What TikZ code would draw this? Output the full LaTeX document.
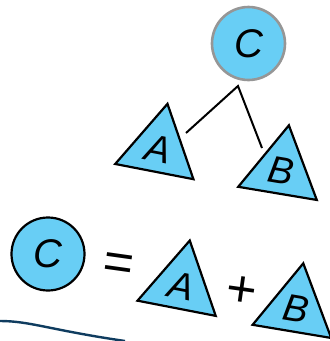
\documentclass[tikz,border=0pt]{standalone}
\usepackage{fontspec}
\setmainfont{Liberation Sans}
\usetikzlibrary{shapes.geometric}
\definecolor{skyfill}{RGB}{104,206,245}
\definecolor{ringgray}{RGB}{150,150,150}
\definecolor{penblue}{RGB}{15,60,95}
\tikzset{
  ball/.style={circle, draw=black, line width=2.2pt, fill=skyfill, minimum size=73pt, inner sep=0pt, font=\fontsize{40}{40}\selectfont\itshape},
  tri/.style={regular polygon, regular polygon sides=3, draw=black, line width=2.2pt, fill=skyfill, minimum size=92pt, inner sep=0pt, font=\fontsize{38}{38}\selectfont\itshape},
  sym/.style={inner sep=0pt, font=\fontsize{52}{52}\selectfont},
  link/.style={line width=2pt, black}
}
\begin{document}
\begin{tikzpicture}[x=1pt,y=-1pt]
\useasboundingbox (0,0) rectangle (330,341);
% tree
\node[ball, draw=ringgray, line width=2.6pt] (C1) at (248.5,43.5) {C};
\node[tri, rotate=-11] (A1) at (158.7,149) {A};
\node[tri, rotate=-9.5] (B1) at (281.3,170.7) {B};
\coordinate (j) at (238,86);
\coordinate (ja) at (186,133);
\coordinate (jb) at (262,148);
\draw[link] (ja) -- (j) -- (jb);
% equation
\node[ball] (C2) at (48,254) {C};
\node[sym, rotate=-8] (eq) at (118,267) {=};
\node[tri, rotate=-11] (A2) at (181,285.7) {A};
\node[sym, rotate=-8] (pl) at (242,292) {+};
\node[tri, rotate=-9.5] (B2) at (295.7,308.7) {B};
% pen stroke
\coordinate (p0) at (0,321);
\coordinate (p1) at (125,341);
\draw[penblue, line width=2.4pt] (p0) .. controls (30,321) and (50,330) .. (p1);
\end{tikzpicture}
\end{document}
